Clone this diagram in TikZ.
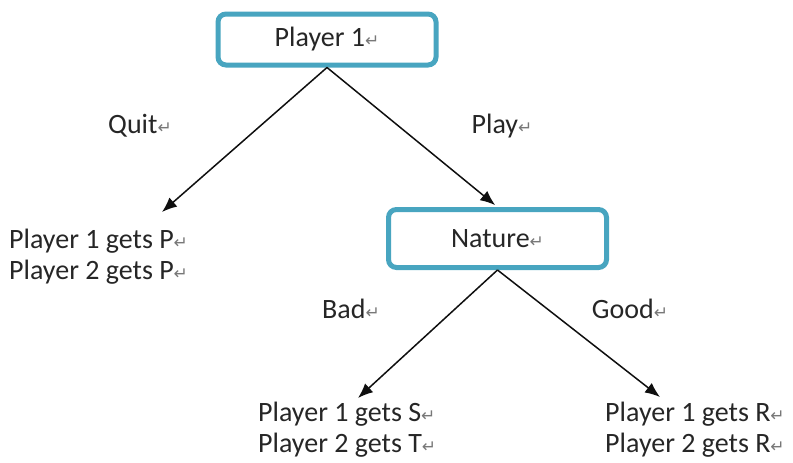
\documentclass[tikz,border=0pt]{standalone}
\usepackage{fontspec}
\setmainfont{Carlito}
\newfontfamily\gtmarkfont{DejaVu Sans}
\usetikzlibrary{
  arrows.meta,
  positioning,
  calc
}
\definecolor{gtTeal}{RGB}{72,165,192}
\definecolor{gtText}{RGB}{38,38,38}
\definecolor{gtMark}{RGB}{120,120,120}
\definecolor{gtLine}{RGB}{15,15,15}
\newcommand{\gtfont}{\fontsize{28}{31}\selectfont}
\newcommand{\gtret}{{\gtmarkfont\fontsize{17}{17}\selectfont\textcolor{gtMark}{↵}}}
\tikzset{
  gtbox/.style={
    draw=gtTeal,
    line width=5pt,
    rounded corners=8pt,
    fill=white,
    minimum width=218pt,
    minimum height=51pt,
    text=gtText,
    font=\gtfont
  },
  gtleaf/.style={
    align=left,
    inner sep=0pt,
    anchor=north west,
    text=gtText,
    font=\gtfont
  },
  gtlabel/.style={
    inner sep=0pt,
    text=gtText,
    font=\gtfont
  },
  gtarrow/.style={
    -{Latex[length=15pt,width=12pt]},
    line width=1.5pt,
    draw=gtLine
  }
}

\begin{document}
\begin{tikzpicture}[x=1pt,y=-1pt]
  \useasboundingbox (0,0) rectangle (793,463);

  % decision nodes
  \node[gtbox] (player) at (327,39.5) {Player 1\gtret};
  \node[gtbox, minimum height=58pt] (nature) at (497.5,238.5) {Nature\gtret};

  % payoffs
  \node[gtleaf] (quitpay) at (9,229)
    {Player 1 gets P\gtret\\Player 2 gets P\gtret};
  \node[gtleaf] (badpay) at (258,402)
    {Player 1 gets S\gtret\\Player 2 gets T\gtret};
  \node[gtleaf] (goodpay) at (605,402)
    {Player 1 gets R\gtret\\Player 2 gets R\gtret};

  % move labels
  \node[gtlabel] (quit) at (140,126) {Quit\gtret};
  \node[gtlabel] (play) at (502,126) {Play\gtret};
  \node[gtlabel] (bad) at (351,309) {Bad\gtret};
  \node[gtlabel] (good) at (630,309) {Good\gtret};

  \coordinate (quittip) at ($(quitpay.north west)+(153,-17)$);
  \coordinate (badtip) at ($(badpay.north west)+(100,-4)$);
  \coordinate (goodtip) at ($(goodpay.north west)+(55,-5)$);

  \draw[gtarrow] (player.south) -- (quittip);
  \draw[gtarrow, shorten >=3pt] (player.south) -- (nature.north);
  \draw[gtarrow] (nature.south) -- (badtip);
  \draw[gtarrow] (nature.south) -- (goodtip);
\end{tikzpicture}
\end{document}
